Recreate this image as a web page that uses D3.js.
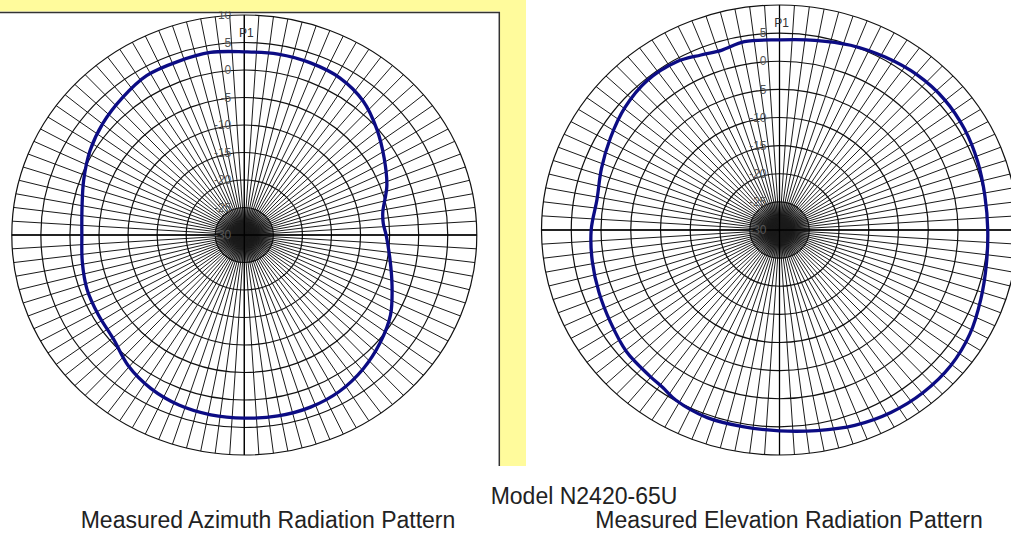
<!DOCTYPE html>
<html><head><meta charset="utf-8">
<script src="https://cdn.jsdelivr.net/npm/d3@7"></script>
<style>body{margin:0;background:#fff;} svg{display:block;}</style>
</head><body>
<svg id="c" width="1011" height="533"></svg>
<script>
// ---- data ----
const azAngles = [0,10,20,30,40,50,60,70,80,85,90,100,110,120,130,140,150,160,170,180,190,200,210,220,230,240,250,260,270,280,290,300,310,320,330,340,350];
const azValues = [3.3,3.4,3.3,2.95,1.8,-0.2,-2.2,-3.9,-5.8,-6.0,-5.6,-4.55,-2.95,-0.95,0.5,1.8,2.8,3.3,3.4,3.3,3.2,2.9,2.2,1.05,-0.6,-1.0,-1.2,-1.7,-2.05,-1.65,-0.6,0.65,1.7,2.6,3.5,3.55,3.7];
const elAngles = [0,10,20,30,40,50,60,70,80,90,100,110,120,130,140,150,160,170,180,190,200,210,215,220,230,240,250,260,270,280,290,300,310,320,330,337,343,350];
const elValues = [3.8,4.25,4.95,5.5,6.0,6.15,5.9,5.45,5.05,5.0,5.3,6.0,6.95,7.55,7.65,7.45,6.95,6.2,5.7,5.5,5.5,4.9,4.2,3.9,3.6,2.8,2.3,1.95,1.65,1.15,1.85,2.8,3.9,4.65,4.55,3.8,3.4,4.0];
const ringLevels = [-25,-20,-15,-10,-5,0,5,10];
const azTickLabels = ["10","5","0","-5","-10","-15","-20","-25","-30"];
const elTickLabels = ["5","0","-5","-10","-15","-20","-25","-30"];
const markerLabel = "P1";
const titleText = "Model N2420-65U";
const captions = ["Measured Azimuth Radiation Pattern","Measured Elevation Radiation Pattern"];
const spokeCount = 100;

const svg = d3.select("#c");
svg.append("rect").attr("width",1011).attr("height",533).attr("fill","#fff");
const font = "Liberation Sans, Arial, sans-serif";

const defs = svg.append("defs");
const grad = defs.append("radialGradient").attr("id","hub");
grad.append("stop").attr("offset","0%").attr("stop-color","#000").attr("stop-opacity",1);
grad.append("stop").attr("offset","45%").attr("stop-color","#000").attr("stop-opacity",0.85);
grad.append("stop").attr("offset","100%").attr("stop-color","#000").attr("stop-opacity",0.35);

function drawPolar(cx, cy, rx, ry, angles, values, labels){
  const g = svg.append("g");
  const rX = d3.scaleLinear().domain([-30,10]).range([0,rx]);
  const rY = d3.scaleLinear().domain([-30,10]).range([0,ry]);
  const rad = a => a*Math.PI/180;
  g.append("ellipse").attr("cx",cx).attr("cy",cy)
    .attr("rx",rX(ringLevels[0])).attr("ry",rY(ringLevels[0])).attr("fill","url(#hub)");
  const spokes = d3.range(spokeCount).map(i => i*360/spokeCount);
  g.selectAll("line.spoke").data(spokes).join("line")
    .attr("x1",cx).attr("y1",cy)
    .attr("x2",a=>cx + rX(10)*Math.sin(rad(a)))
    .attr("y2",a=>cy - rY(10)*Math.cos(rad(a)))
    .attr("stroke","#1a1a1a").attr("stroke-width",1);
  g.selectAll("ellipse.ring").data(ringLevels).join("ellipse")
    .attr("cx",cx).attr("cy",cy)
    .attr("rx",d=>rX(d)).attr("ry",d=>rY(d))
    .attr("fill","none").attr("stroke","#111").attr("stroke-width",1.2);
  [0,90,180,270].forEach(a=>{
    g.append("line").attr("x1",cx).attr("y1",cy)
      .attr("x2",cx + rX(10)*Math.sin(rad(a)))
      .attr("y2",cy - rY(10)*Math.cos(rad(a)))
      .attr("stroke","#000").attr("stroke-width",1.3);
  });
  g.selectAll("text.tick").data(labels).join("text")
    .attr("x",cx-13).attr("y",d=>cy - rY(+d))
    .attr("dy","0.35em").attr("text-anchor","end")
    .attr("font-family",font).attr("font-size",12)
    .attr("fill","#555").text(d=>d);
  g.append("text").attr("x",cx+2).attr("y",cy - rY(6.6)+3)
    .attr("text-anchor","middle")
    .attr("font-family",font).attr("font-size",12)
    .attr("fill","#333").text(markerLabel);
  const pts = angles.map((a,i)=>({a:rad(a), v:values[i]}));
  const line = d3.line()
    .x(d=>cx + rX(d.v)*Math.sin(d.a))
    .y(d=>cy - rY(d.v)*Math.cos(d.a))
    .curve(d3.curveCatmullRomClosed.alpha(0.5));
  g.append("path").attr("d",line(pts)).attr("fill","none")
    .attr("stroke","#0c0c84").attr("stroke-width",3.3).attr("stroke-linejoin","round");
}

drawPolar(244.3, 235, 232.5, 220, azAngles, azValues, azTickLabels);
drawPolar(779.5, 230, 238, 225, elAngles, elValues, elTickLabels);

// frame and yellow band around the left chart
svg.append("rect").attr("x",0).attr("y",0).attr("width",526).attr("height",11.5).attr("fill","#fffb9c");
svg.append("rect").attr("x",500).attr("y",0).attr("width",26).attr("height",466).attr("fill","#fffb9c");
svg.append("path").attr("d","M0,12.5H499.3V466").attr("fill","none").attr("stroke","#333").attr("stroke-width",1.5);

svg.append("text").attr("x",584).attr("y",504).attr("text-anchor","middle")
  .attr("font-family",font).attr("font-size",23).attr("fill","#222").text(titleText);
svg.append("text").attr("x",268).attr("y",527.5).attr("text-anchor","middle")
  .attr("font-family",font).attr("font-size",23).attr("fill","#222").text(captions[0]);
svg.append("text").attr("x",789).attr("y",527.5).attr("text-anchor","middle")
  .attr("font-family",font).attr("font-size",23).attr("fill","#222").text(captions[1]);
</script>
</body></html>
